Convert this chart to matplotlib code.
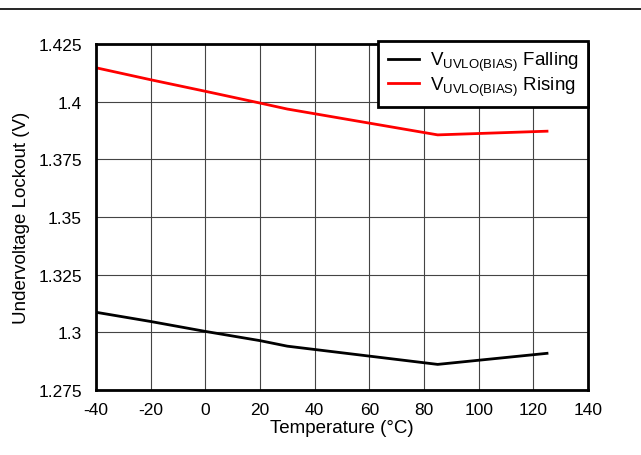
import matplotlib
matplotlib.use("Agg")
import matplotlib.pyplot as plt
from matplotlib.lines import Line2D

plt.rcParams['font.family'] = ['Liberation Sans', 'DejaVu Sans']
plt.rcParams['mathtext.fontset'] = 'custom'
plt.rcParams['mathtext.rm'] = 'Liberation Sans'
plt.rcParams['axes.unicode_minus'] = False

# temperature points (degC)
temp = [-40, -20, 0, 20, 30, 85, 125]
# UVLO thresholds (V)
v_falling = [1.3087, 1.3047, 1.3004, 1.2964, 1.2940, 1.2861, 1.2909]
v_rising = [1.4147, 1.4095, 1.4045, 1.3994, 1.3968, 1.3856, 1.3872]

x_ticks = [-40, -20, 0, 20, 40, 60, 80, 100, 120, 140]
y_ticks = [1.275, 1.3, 1.325, 1.35, 1.375, 1.4, 1.425]
y_labels = ['1.275', '1.3', '1.325', '1.35', '1.375', '1.4', '1.425']

fig = plt.figure(figsize=(6.41, 4.56), dpi=100)
ax = fig.add_axes([96 / 641, 65 / 456, 492 / 641, 346 / 456])

ax.plot(temp, v_falling, color='black', linewidth=2,
        label=r'V$_{\mathregular{UVLO(BIAS)}}$ Falling')
ax.plot(temp, v_rising, color='#ff0000', linewidth=2,
        label=r'V$_{\mathregular{UVLO(BIAS)}}$ Rising')

ax.set_xlim(-40, 140)
ax.set_ylim(1.275, 1.425)
ax.set_xticks(x_ticks)
ax.set_yticks(y_ticks)
ax.set_yticklabels(y_labels)
ax.tick_params(length=0, labelsize=12.5)
ax.tick_params(axis='y', pad=10)
ax.tick_params(axis='x', pad=9)
ax.grid(True, color='#444444', linewidth=0.8)
for s in ax.spines.values():
    s.set_linewidth(2)

ax.set_xlabel('Temperature (°C)', fontsize=13.5, labelpad=1)
ax.set_ylabel('Undervoltage Lockout (V)', fontsize=13.5, labelpad=6)

leg = ax.legend(loc='upper right', bbox_to_anchor=(1.0, 1.01), fontsize=13.5,
                frameon=True, fancybox=False, framealpha=1, borderpad=0.5,
                handlelength=1.7, handletextpad=0.55, labelspacing=0.05,
                borderaxespad=0)
leg.get_frame().set_edgecolor('black')
leg.get_frame().set_linewidth(2)

# top rule across the page
fig.add_artist(Line2D([0, 1], [1 - 10 / 456, 1 - 10 / 456],
                      color='black', linewidth=1.2, transform=fig.transFigure))

fig.savefig('out.png', dpi=100)
